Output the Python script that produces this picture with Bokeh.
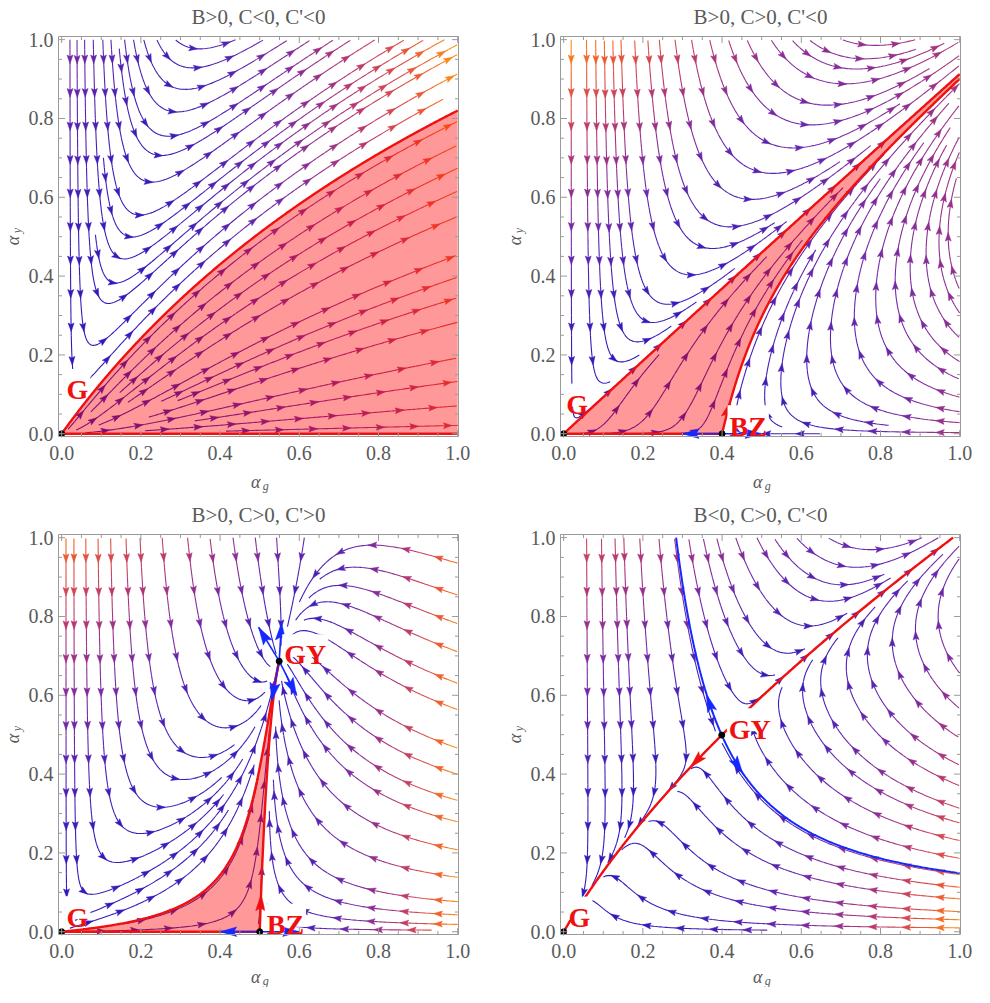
import math, bisect
import numpy as np
from bokeh.plotting import figure
from bokeh.models import Range1d, ColumnDataSource
from bokeh.layouts import gridplot
from bokeh.embed import file_html
from bokeh.resources import INLINE
from bokeh.core.properties import value

# ---------------- data ----------------
titles = ["B>0, C<0, C'<0", "B>0, C>0, C'<0", "B>0, C>0, C'>0", "B<0, C>0, C'<0"]
# flow (towards the IR):  d a_g = a_g^2 (B - C a_g + D a_y),  d a_y = a_y (F a_g - E a_y)
coef_B = [1.4, 0.32, 1.15, -0.485]
coef_C = [-1.05, 0.8, 2.3, 0.96]
coef_D = [0.9, 0.9, 0.165, 1.74]
coef_E = [1.0, 1.0, 1.0, 1.0]
coef_F = [2.8, 1.25, 1.25, 1.25]

# streamline seed points (upstream ends)
seed_x_p1 = [0.021, 0.039, 0.058, 0.080, 0.105, 0.125, 0.160, 0.185, 0.210, 0.245, 0.300, 0.113, 0.087,
             0.090, 0.088, 0.088, 0.140, 0.230, 0.275, 0.360, 0.450, 0.455]
seed_y_p1 = [0.940, 0.944, 0.990, 0.990, 0.970, 0.990, 0.990, 0.980, 0.990, 0.990, 0.990, 0.730, 0.490,
             0.100, 0.070, 0.040, 0.012, 0.045, 0.012, 0.160, 0.050, 0.012]
seed_x_p2 = [0.019, 0.058, 0.081, 0.103, 0.145, 0.181, 0.215, 0.245, 0.287, 0.330, 0.380, 0.430, 0.472,
             0.530, 0.585, 0.656, 0.739,
             0.975, 0.975, 0.975, 0.975, 0.975, 0.975, 0.975, 0.975, 0.975, 0.975, 0.975,
             0.090, 0.190, 0.290, 0.100, 0.440, 0.520, 0.030]
seed_y_p2 = [0.955, 0.940, 0.984, 0.977, 0.990, 0.963, 0.963, 0.960, 0.955, 0.960, 0.955, 0.960, 0.980,
             0.990, 0.990, 0.976, 0.990,
             0.003, 0.030, 0.060, 0.100, 0.150, 0.200, 0.270, 0.350, 0.450, 0.550, 0.650,
             0.015, 0.025, 0.030, 0.002, 0.085, 0.040, 0.075]
seed_x_p3 = [0.031, 0.061, 0.092, 0.124, 0.163, 0.200, 0.256, 0.321, 0.376, 0.434, 0.490, 0.543, 0.612,
             0.980, 0.980, 0.980, 0.980, 0.980, 0.980, 0.980, 0.980, 0.980, 0.980, 0.980, 0.980, 0.980,
             0.980, 0.980, 0.071, 0.030, 0.180, 0.250]
seed_y_p3 = [0.958, 0.983, 0.987, 0.983, 0.983, 0.954, 0.970, 0.970, 0.987, 0.990, 0.990, 0.995, 0.995,
             0.941, 0.861, 0.789, 0.718, 0.638, 0.571, 0.473, 0.406, 0.339, 0.284, 0.212, 0.141, 0.078,
             0.044, 0.019, 0.048, 0.012, 0.004, 0.020]
seed_x_p4 = [0.058, 0.096, 0.132, 0.152, 0.196, 0.242, 0.321, 0.355, 0.392, 0.438, 0.497, 0.614,
             0.980, 0.980, 0.980, 0.980, 0.980, 0.980, 0.980, 0.980, 0.980, 0.980, 0.980, 0.980, 0.980,
             0.980, 0.980, 0.384]
seed_y_p4 = [0.978, 0.957, 0.903, 0.995, 0.928, 0.982, 0.966, 0.987, 0.978, 0.990, 0.982, 0.974,
             0.685, 0.584, 0.505, 0.433, 0.379, 0.320, 0.282, 0.236, 0.190, 0.148, 0.115, 0.085, 0.052,
             0.031, 0.010, 0.006]
seeds_x = [seed_x_p1, seed_x_p2, seed_x_p3, seed_x_p4]
seeds_y = [seed_y_p1, seed_y_p2, seed_y_p3, seed_y_p4]

label_text = [["G"], ["G", "BZ"], ["G", "BZ", "GY"], ["G", "GY"]]
label_x = [[0.040], [0.034, 0.466], [0.040, 0.565, 0.615], [0.040, 0.470]]
label_y = [[0.135], [0.098, 0.043], [0.061, 0.042, 0.726], [0.060, 0.538]]

# blue arrows at GY of panel 3 (tip offsets)
gy_arrow_dx = [-0.052, 0.006, -0.019, 0.044]
gy_arrow_dy = [0.086, 0.098, -0.100, -0.087]

major_ticks = [0.0, 0.2, 0.4, 0.6, 0.8, 1.0]
tick_labels = ["0.0", "0.2", "0.4", "0.6", "0.8", "1.0"]
minor_ticks = [round(0.05 * i, 2) for i in range(21) if i % 4 != 0]

# ---------------- styling ----------------
RED = "#f01010"
BLUE = "#1428ff"
SERIF = "Liberation Serif"
GRAY_TXT = "#5a5a5a"
FRAME = "#9a9a9a"
X0, X1 = -0.008, 1.002
Y0, Y1 = -0.007, 1.008
BOX = 400.0
D_TEST = 0.016
D_SEED = 0.045
CELL = 0.016
CHAR_W = {"G": 0.778, "B": 0.667, "Z": 0.667, "Y": 0.722}

pal_stops = [0.0, 0.22, 0.5, 0.78, 1.0]
pal_cols = [(45, 25, 190), (112, 40, 168), (182, 55, 115), (238, 90, 50), (255, 155, 10)]


def palette(t):
    t = min(max(t, 0.0), 1.0)
    for i in range(len(pal_stops) - 1):
        if t <= pal_stops[i + 1]:
            f = (t - pal_stops[i]) / (pal_stops[i + 1] - pal_stops[i])
            c = [int(round(pal_cols[i][j] + f * (pal_cols[i + 1][j] - pal_cols[i][j]))) for j in range(3)]
            return "#%02x%02x%02x" % tuple(c)
    return "#%02x%02x%02x" % pal_cols[-1]


def make_field(k):
    B, C, D, E, F = coef_B[k], coef_C[k], coef_D[k], coef_E[k], coef_F[k]

    def f(x, y):
        return x * x * (B - C * x + D * y), y * (F * x - E * y)
    return f


def fixed_points(k):
    B, C, D, E, F = coef_B[k], coef_C[k], coef_D[k], coef_E[k], coef_F[k]
    fp = {"G": (0.0, 0.0)}
    if C != 0 and 0 < B / C < 1:
        fp["BZ"] = (B / C, 0.0)
    Cp = C - D * F / E
    if Cp != 0:
        xg = B / Cp
        yg = F / E * xg
        if 0 < xg < 1 and 0 < yg < 1:
            fp["GY"] = (xg, yg)
    return fp


def rk4(f, x, y, sgn, h):
    def d(a, b):
        u, v = f(a, b)
        n = math.hypot(u, v)
        if n < 1e-14:
            return None
        return sgn * u / n, sgn * v / n
    k1 = d(x, y)
    if k1 is None:
        return None
    k2 = d(x + 0.5 * h * k1[0], y + 0.5 * h * k1[1])
    if k2 is None:
        return None
    k3 = d(x + 0.5 * h * k2[0], y + 0.5 * h * k2[1])
    if k3 is None:
        return None
    k4 = d(x + h * k3[0], y + h * k3[1])
    if k4 is None:
        return None
    return (x + h * (k1[0] + 2 * k2[0] + 2 * k3[0] + k4[0]) / 6.0,
            y + h * (k1[1] + 2 * k2[1] + 2 * k3[1] + k4[1]) / 6.0)


class Grid:
    def __init__(self):
        self.c = {}

    def add(self, pts):
        for x, y in pts:
            self.c.setdefault((int(x / CELL), int(y / CELL)), []).append((x, y))

    def near(self, x, y, r):
        n = int(math.ceil(r / CELL))
        i, j = int(x / CELL), int(y / CELL)
        r2 = r * r
        for a in range(i - n, i + n + 1):
            for b in range(j - n, j + n + 1):
                for px, py in self.c.get((a, b), ()):
                    if (px - x) ** 2 + (py - y) ** 2 < r2:
                        return True
        return False


def trace(f, x, y, sgn, grid, fps, h=0.005, maxlen=2.0):
    pts = [(x, y)]
    L = 0.0
    prev = None
    while L < maxlen:
        st = rk4(f, x, y, sgn, h)
        if st is None:
            break
        nx, ny = st
        if nx < 0 or nx > 1 or ny < 0 or ny > 1:
            break
        dx, dy = nx - x, ny - y
        if prev is not None and dx * prev[0] + dy * prev[1] < 0:
            break
        if any((nx - a) ** 2 + (ny - b) ** 2 < 0.018 ** 2 for a, b in fps):
            break
        if grid.near(nx, ny, D_TEST):
            break
        pts.append((nx, ny))
        prev = (dx, dy)
        x, y = nx, ny
        L += h
    return pts


def trace_curve(f, x, y, sgn, target=None, h=0.003, maxlen=3.0):
    pts = [(x, y)]
    L = 0.0
    while L < maxlen:
        st = rk4(f, x, y, sgn, h)
        if st is None:
            break
        nx, ny = st
        if target is not None and (nx - target[0]) ** 2 + (ny - target[1]) ** 2 < (1.5 * h) ** 2:
            pts.append(target)
            break
        if nx < 0 or nx > 1 or ny < 0 or ny > 1:
            t = 1.0
            for c, nc in ((x, nx), (y, ny)):
                if nc > 1:
                    t = min(t, (1 - c) / (nc - c))
                if nc < 0:
                    t = min(t, (0 - c) / (nc - c))
            pts.append((x + t * (nx - x), y + t * (ny - y)))
            break
        pts.append((nx, ny))
        x, y = nx, ny
        L += h
    return pts


def at_arc(pts, s):
    cum = [0.0]
    for i in range(1, len(pts)):
        cum.append(cum[-1] + math.hypot(pts[i][0] - pts[i - 1][0], pts[i][1] - pts[i - 1][1]))
    s = min(max(s, 0.0), cum[-1] - 1e-9)
    i = max(0, min(bisect.bisect_right(cum, s) - 1, len(pts) - 2))
    seg = cum[i + 1] - cum[i]
    t = 0 if seg == 0 else (s - cum[i]) / seg
    px = pts[i][0] + t * (pts[i + 1][0] - pts[i][0])
    py = pts[i][1] + t * (pts[i + 1][1] - pts[i][1])
    return px, py, pts[i + 1][0] - pts[i][0], pts[i + 1][1] - pts[i][1]


def head(px, py, dx, dy, length, hw, tip=False):
    n = math.hypot(dx, dy)
    dx, dy = dx / n, dy / n
    if tip:
        px, py = px - dx * length * 0.5, py - dy * length * 0.5
    tx, ty = px + dx * length * 0.5, py + dy * length * 0.5
    bx, by = px - dx * length * 0.5, py - dy * length * 0.5
    nx_, ny_ = bx + dx * length * 0.18, by + dy * length * 0.18
    return [tx, bx - dy * hw, nx_, bx + dy * hw], [ty, by + dx * hw, ny_, by - dx * hw]


def build_panel(k, width, height, bl, bt, xlab_gap):
    f = make_field(k)
    fp = fixed_points(k)
    fps = list(fp.values())
    B, C, D, E, F = coef_B[k], coef_C[k], coef_D[k], coef_E[k], coef_F[k]

    ppx = BOX / (X1 - X0)
    ppy = BOX / (Y1 - Y0)
    xs0 = X0 - bl / ppx
    ye1 = Y1 + bt / ppy
    p = figure(width=width, height=height,
               x_range=Range1d(xs0, xs0 + width / ppx), y_range=Range1d(ye1 - height / ppy, ye1),
               output_backend="svg", toolbar_location=None,
               min_border_left=0, min_border_right=0, min_border_top=0, min_border_bottom=0)
    p.axis.visible = False
    p.xgrid.visible = False
    p.ygrid.visible = False
    p.outline_line_color = None
    p.background_fill_color = "white"
    p.border_fill_color = "white"

    # speed normalisation
    gx = np.linspace(0, 1, 61)
    smax = 0.0
    for a in gx:
        for b in gx:
            u, v = f(a, b)
            smax = max(smax, math.hypot(u, v))

    def col(x, y):
        u, v = f(x, y)
        return palette(math.hypot(u, v) / smax)

    # ---- streamlines ----
    grid = Grid()
    lines = []

    def add_seed(sx, sy, rseed):
        if not (0 <= sx <= 1 and 0 <= sy <= 1):
            return
        if any((sx - a) ** 2 + (sy - b) ** 2 < 0.025 ** 2 for a, b in fps):
            return
        if grid.near(sx, sy, rseed):
            return
        back = trace(f, sx, sy, -1, grid, fps)
        fwd = trace(f, sx, sy, +1, grid, fps)
        pts = back[::-1] + fwd[1:]
        Ltot = 0.0
        for i in range(1, len(pts)):
            Ltot += math.hypot(pts[i][0] - pts[i - 1][0], pts[i][1] - pts[i - 1][1])
        if Ltot < 0.06:
            return
        grid.add(pts)
        lines.append(pts)

    for sx, sy in zip(seeds_x[k], seeds_y[k]):
        add_seed(sx, sy, D_TEST)
    cand = np.arange(0.02, 0.99, 0.03)
    for sy in cand[::-1]:
        for sx in cand:
            add_seed(float(sx), float(sy), D_SEED)

    lxs, lys, lcs = [], [], []
    axs, ays, acs = [], [], []
    for pts in lines:
        n = len(pts)
        for i in range(0, n - 1, 5):
            seg = pts[i:i + 6]
            if len(seg) < 2:
                continue
            mx, my = seg[len(seg) // 2]
            lxs.append([q[0] for q in seg])
            lys.append([q[1] for q in seg])
            lcs.append(col(mx, my))
        Ltot = 0.0
        for i in range(1, n):
            Ltot += math.hypot(pts[i][0] - pts[i - 1][0], pts[i][1] - pts[i - 1][1])
        pos = []
        s = 0.05
        while s < Ltot - 0.012:
            pos.append(s)
            s += 0.085
        if not pos:
            pos = [Ltot / 2]
        for s in pos:
            px, py, dx, dy = at_arc(pts, s)
            hx, hy = head(px, py, dx, dy, 0.022, 0.0075)
            axs.append(hx)
            ays.append(hy)
            acs.append(col(px, py))

    p.multi_line(xs="xs", ys="ys", line_color="c", line_width=1.1,
                 source=ColumnDataSource(dict(xs=lxs, ys=lys, c=lcs)))
    p.patches(xs="xs", ys="ys", fill_color="c", line_color="c", line_width=0.5,
              source=ColumnDataSource(dict(xs=axs, ys=ays, c=acs)))

    big_x, big_y, big_c = [], [], []
    red_lines = []
    blue_lines = []
    G = fp["G"]
    if k in (0, 1, 2):
        rstar = (F - B) / E
        sepG = [G] + trace_curve(f, 0.002, 0.002 * rstar, +1, target=fp.get("GY"))
        red_lines.append(sepG)
        if "BZ" in fp:
            x0 = fp["BZ"][0]
            lam = F * x0
            a = D * x0 * x0 / (C * x0 * x0 + lam)
            nrm = math.hypot(a, 1.0)
            sepBZ = [fp["BZ"]] + trace_curve(f, x0 + 0.003 * a / nrm, 0.003 / nrm, +1, target=fp.get("GY"))
            red_lines.append(sepBZ)
            poly = sepG + sepBZ[::-1]
            red_lines.append([G, fp["BZ"]])
            px, py, dx, dy = at_arc(sepBZ, 0.085 if k == 1 else 0.095)
            hx, hy = head(px, py, dx, dy, 0.042, 0.012, tip=True)
            big_x.append(hx); big_y.append(hy); big_c.append(RED)
            for sgn in (-1, 1):
                blue_lines.append([fp["BZ"], (x0 + sgn * 0.1, 0.0)])
                hx, hy = head(x0 + sgn * 0.1, 0.0, sgn, 0.0, 0.042, 0.012, tip=True)
                big_x.append(hx); big_y.append(hy); big_c.append(BLUE)
        else:
            poly = sepG + [(1.0, 0.0)]
            red_lines.append([G, (1.0, 0.0)])
        p.patch([q[0] for q in poly], [q[1] for q in poly], fill_color="#ff0000", fill_alpha=0.4, line_color=None)
    if k == 2:
        gx0, gy0 = fp["GY"]
        for dx, dy in zip(gy_arrow_dx, gy_arrow_dy):
            blue_lines.append([(gx0, gy0), (gx0 + dx, gy0 + dy)])
            hx, hy = head(gx0 + dx, gy0 + dy, dx, dy, 0.045, 0.013, tip=True)
            big_x.append(hx); big_y.append(hy); big_c.append(BLUE)
    if k == 3:
        x0, y0 = fp["GY"]
        J = np.array([[2 * x0 * (B - C * x0 + D * y0) - C * x0 * x0, D * x0 * x0],
                      [F * y0, F * x0 - 2 * E * y0]])
        w, V = np.linalg.eig(J)
        iu = int(np.argmax(w.real))
        vu = V[:, iu].real
        vs = V[:, 1 - iu].real
        if vu[0] > 0:
            vu = -vu
        if vs[1] < 0:
            vs = -vs
        eps = 0.003
        down = trace_curve(f, x0 + eps * vu[0], y0 + eps * vu[1], +1, target=G)
        up = trace_curve(f, x0 - eps * vu[0], y0 - eps * vu[1], +1)
        red_lines.append(down[::-1] + [(x0, y0)] + up)
        ul = trace_curve(f, x0 + eps * vs[0], y0 + eps * vs[1], -1)
        lr = trace_curve(f, x0 - eps * vs[0], y0 - eps * vs[1], -1)
        blue_lines.append(ul[::-1] + [(x0, y0)] + lr)
        px, py, dx, dy = at_arc(down, 0.09)
        hx, hy = head(px, py, dx, dy, 0.045, 0.012)
        big_x.append(hx); big_y.append(hy); big_c.append(RED)
        for br_ in (ul, lr):
            px, py, dx, dy = at_arc(br_, 0.085)
            hx, hy = head(px, py, dx, dy, 0.045, 0.012)
            big_x.append(hx); big_y.append(hy); big_c.append(BLUE)

    for ln in red_lines:
        p.line([q[0] for q in ln], [q[1] for q in ln], line_color=RED, line_width=2.4)
    for ln in blue_lines:
        p.line([q[0] for q in ln], [q[1] for q in ln], line_color=BLUE, line_width=2.0 if k == 3 else 1.6)
    if big_x:
        p.patches(xs=big_x, ys=big_y, fill_color=big_c, line_color=big_c, line_width=0.5)
    p.scatter([q[0] for q in fps], [q[1] for q in fps], size=6, color="black")

    # ---- frame, ticks, tick labels ----
    p.line([X0, X1, X1, X0, X0], [Y0, Y0, Y1, Y1, Y0], line_color=FRAME, line_width=1)
    lmx, lmy = 6.5 / ppx, 6.5 / ppy
    lnx, lny = 3.5 / ppx, 3.5 / ppy
    nM, nm = len(major_ticks), len(minor_ticks)
    p.segment(x0=major_ticks, y0=[Y0] * nM, x1=major_ticks, y1=[Y0 + lmy] * nM, line_color=FRAME)
    p.segment(x0=minor_ticks, y0=[Y0] * nm, x1=minor_ticks, y1=[Y0 + lny] * nm, line_color=FRAME)
    p.segment(x0=major_ticks, y0=[Y1] * nM, x1=major_ticks, y1=[Y1 - lmy] * nM, line_color=FRAME)
    p.segment(x0=minor_ticks, y0=[Y1] * nm, x1=minor_ticks, y1=[Y1 - lny] * nm, line_color=FRAME)
    p.segment(x0=[X0] * nM, y0=major_ticks, x1=[X0 + lmx] * nM, y1=major_ticks, line_color=FRAME)
    p.segment(x0=[X0] * nm, y0=minor_ticks, x1=[X0 + lnx] * nm, y1=minor_ticks, line_color=FRAME)
    p.segment(x0=[X1] * nM, y0=major_ticks, x1=[X1 - lmx] * nM, y1=major_ticks, line_color=FRAME)
    p.segment(x0=[X1] * nm, y0=minor_ticks, x1=[X1 - lnx] * nm, y1=minor_ticks, line_color=FRAME)

    p.text(x=major_ticks, y=[Y0 - 16.5 / ppy] * nM, text=tick_labels, text_font=value(SERIF),
           text_font_size=value("20px"), text_color=GRAY_TXT, text_align="center", text_baseline="middle")
    p.text(x=[X0 - 5 / ppx] * nM, y=major_ticks, text=tick_labels, text_font=value(SERIF),
           text_font_size=value("20px"), text_color=GRAY_TXT, text_align="right", text_baseline="middle")
    # title
    p.text(x=[(X0 + X1) / 2], y=[Y1 + 19.5 / ppy], text=[titles[k]], text_font=value(SERIF),
           text_font_size=value("21px"), text_color=GRAY_TXT, text_align="center", text_baseline="middle")
    # axis labels
    ya = Y0 - xlab_gap / ppy
    p.text(x=[0.49], y=[ya], text=["α"], text_font=value(SERIF), text_font_style="italic",
           text_font_size=value("18px"), text_color=GRAY_TXT, text_align="center", text_baseline="middle")
    p.text(x=[0.49 + 10 / ppx], y=[ya - 4 / ppy], text=["g"], text_font=value(SERIF), text_font_style="italic",
           text_font_size=value("12px"), text_color=GRAY_TXT, text_align="center", text_baseline="middle")
    xa = X0 - 46 / ppx
    p.text(x=[xa], y=[0.49], text=["α"], text_font=value(SERIF), text_font_style="italic",
           text_font_size=value("18px"), text_color=GRAY_TXT, text_align="center", text_baseline="middle",
           angle=math.pi / 2)
    p.text(x=[xa + 4 / ppx], y=[0.49 + 10 / ppy], text=["y"], text_font=value(SERIF), text_font_style="italic",
           text_font_size=value("12px"), text_color=GRAY_TXT, text_align="center", text_baseline="middle",
           angle=math.pi / 2)

    # fixed point names with white backing the size of the capitals
    for t, lx, ly in zip(label_text[k], label_x[k], label_y[k]):
        wpx = sum(CHAR_W[c] for c in t) * 28 + 4
        p.rect(x=[lx], y=[ly], width=[wpx / ppx], height=[23 / ppy], fill_color="white", line_color=None)
        p.text(x=[lx], y=[ly - 9.3 / ppy], text=[t], text_font=value(SERIF), text_font_style="bold",
               text_font_size=value("28px"), text_color=RED, text_align="center", text_baseline="alphabetic")
    return p


p1 = build_panel(0, 502, 498, 58, 36, 45)
p2 = build_panel(1, 472, 498, 58, 36, 45)
p3 = build_panel(2, 502, 489, 58, 36, 42)
p4 = build_panel(3, 472, 489, 58, 36, 42)

layout = gridplot([[p1, p2], [p3, p4]], toolbar_location=None)
open("out.html", "w").write(file_html(layout, INLINE))
